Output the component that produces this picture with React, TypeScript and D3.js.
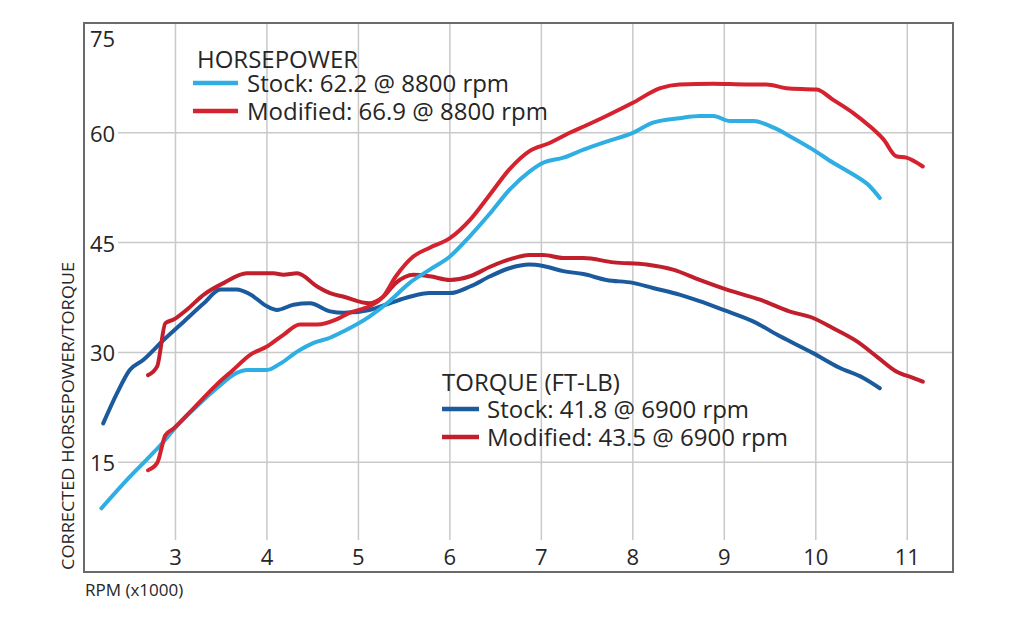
import React from "react";
import * as d3 from "d3";

// rpm in thousands
const stockHpRpm = [2.19, 2.5, 2.72, 2.87, 3.01, 3.23, 3.45, 3.67, 3.78, 4.0, 4.15, 4.33, 4.51, 4.69, 4.84, 5.12, 5.34, 5.56, 5.78, 6.0, 6.22, 6.44, 6.65, 6.87, 7.02, 7.24, 7.46, 7.71, 8.0, 8.22, 8.51, 8.73, 8.88, 9.06, 9.32, 9.54, 9.75, 9.97, 10.19, 10.41, 10.59, 10.7];
const stockHp = [8.7, 13.0, 15.8, 17.8, 19.9, 22.6, 25.1, 27.2, 27.6, 27.6, 28.5, 30.1, 31.3, 32.0, 32.9, 34.9, 37.0, 39.5, 41.3, 43.1, 45.9, 49.0, 52.2, 54.7, 55.9, 56.6, 57.7, 58.8, 60.0, 61.4, 62.0, 62.3, 62.3, 61.6, 61.6, 60.7, 59.3, 57.7, 55.9, 54.3, 52.7, 51.1];

const modHpRpm = [2.7, 2.8, 2.89, 2.98, 3.2, 3.45, 3.63, 3.82, 4.0, 4.18, 4.36, 4.55, 4.76, 4.9, 5.12, 5.27, 5.41, 5.6, 5.78, 6.0, 6.22, 6.44, 6.65, 6.87, 7.09, 7.31, 7.47, 7.71, 8.0, 8.3, 8.51, 8.88, 9.24, 9.46, 9.68, 10.01, 10.19, 10.41, 10.59, 10.74, 10.88, 10.99, 11.17];
const modHp = [13.9, 14.9, 18.7, 19.6, 22.4, 25.6, 27.6, 29.7, 30.8, 32.4, 33.8, 33.8, 34.5, 35.4, 36.3, 37.6, 40.4, 43.1, 44.3, 45.6, 48.1, 51.6, 55.0, 57.5, 58.6, 60.0, 60.9, 62.3, 64.1, 66.1, 66.6, 66.7, 66.6, 66.6, 66.1, 65.9, 64.5, 62.7, 60.9, 59.1, 56.8, 56.6, 55.4];

const stockTqRpm = [2.21, 2.36, 2.5, 2.65, 2.87, 3.09, 3.31, 3.49, 3.67, 3.82, 4.0, 4.11, 4.29, 4.47, 4.69, 4.84, 5.12, 5.34, 5.56, 5.78, 6.0, 6.22, 6.44, 6.65, 6.87, 7.02, 7.24, 7.46, 7.71, 8.0, 8.22, 8.51, 8.73, 8.99, 9.32, 9.61, 9.97, 10.26, 10.52, 10.7];
const stockTq = [20.3, 24.4, 27.6, 29.0, 31.7, 34.2, 36.7, 38.6, 38.6, 37.9, 36.3, 35.8, 36.5, 36.7, 35.6, 35.4, 35.8, 36.7, 37.6, 38.1, 38.1, 39.0, 40.4, 41.5, 42.0, 41.8, 41.1, 40.7, 39.9, 39.5, 38.8, 37.9, 37.0, 35.8, 34.2, 32.2, 29.9, 27.9, 26.5, 25.1];

const modTqRpm = [2.7, 2.8, 2.89, 2.98, 3.12, 3.31, 3.53, 3.78, 4.07, 4.18, 4.33, 4.55, 4.69, 4.84, 5.12, 5.27, 5.41, 5.6, 5.78, 6.0, 6.22, 6.44, 6.65, 6.87, 7.02, 7.24, 7.46, 7.79, 8.15, 8.44, 8.73, 9.02, 9.39, 9.71, 9.97, 10.19, 10.45, 10.67, 10.88, 11.07, 11.17];
const modTq = [26.9, 28.1, 34.0, 34.5, 35.8, 37.9, 39.5, 40.8, 40.8, 40.6, 40.8, 39.0, 38.1, 37.6, 36.7, 37.6, 39.5, 40.6, 40.4, 39.9, 40.4, 41.7, 42.7, 43.3, 43.3, 42.9, 42.9, 42.3, 42.0, 41.3, 39.9, 38.6, 37.2, 35.6, 34.7, 33.3, 31.5, 29.4, 27.4, 26.5, 26.0];

const xTicks = [3, 4, 5, 6, 7, 8, 9, 10, 11];
const yTicks = [15, 30, 45, 60, 75];

const hpLegend = ["Stock: 62.2 @ 8800 rpm", "Modified: 66.9 @ 8800 rpm"];
const tqLegend = ["Stock: 41.8 @ 6900 rpm", "Modified: 43.5 @ 6900 rpm"];

const LIGHT_BLUE = "#2eaee3";
const RED = "#d4232f";
const DARK_BLUE = "#1b5a9d";
const DARK_RED = "#c21f2c";

const FONT = "'Open Sans', 'Liberation Sans', sans-serif";

export default function App() {
  const width = 1024;
  const height = 632;
  const margin = { top: 23, right: 71, bottom: 60, left: 84 };

  const x = d3.scaleLinear().domain([2, 11.5]).range([margin.left, width - margin.right]);
  const y = d3.scaleLinear().domain([0, 75]).range([height - margin.bottom, margin.top]);

  const line = d3.line<[number, number]>()
    .x(d => x(d[0]))
    .y(d => y(d[1]))
    .curve(d3.curveMonotoneX);

  const zip = (r: number[], v: number[]) => r.map((d, i) => [d, v[i]] as [number, number]);

  const series = [
    { pts: zip(stockTqRpm, stockTq), color: DARK_BLUE },
    { pts: zip(modTqRpm, modTq), color: DARK_RED },
    { pts: zip(stockHpRpm, stockHp), color: LIGHT_BLUE },
    { pts: zip(modHpRpm, modHp), color: RED },
  ];

  const plotBottom = y(0);
  const gridBottom = plotBottom - 32;

  return (
    <svg width={width} height={height} style={{ position: "absolute", left: 0, top: 0, background: "#fff" }} fontFamily={FONT}>
      {/* vertical grid */}
      {xTicks.map(t => (
        <line key={"vx" + t} x1={x(t)} x2={x(t)} y1={y(75)} y2={gridBottom} stroke="#c9c9c9" strokeWidth={1.5} />
      ))}
      {/* horizontal grid */}
      {yTicks.filter(t => t < 75).map(t => (
        <line key={"hy" + t} x1={margin.left + 34} x2={x(11.5)} y1={y(t)} y2={y(t)} stroke="#c9c9c9" strokeWidth={1.5} />
      ))}

      {/* frame */}
      <rect x={x(2)} y={y(75)} width={x(11.5) - x(2)} height={y(0) - y(75)} fill="none" stroke="#6a6a6a" strokeWidth={2} />

      {/* y tick labels */}
      {yTicks.map(t => (
        <text key={"yl" + t} x={margin.left + 6} y={t === 75 ? y(t) + 16 : y(t) + 1} dy="0.36em" fontSize={22} fill="#262626">
          {t}
        </text>
      ))}
      {/* x tick labels */}
      {xTicks.map(t => (
        <text key={"xl" + t} x={x(t)} y={plotBottom - 15} dy="0.36em" textAnchor="middle" fontSize={22} fill="#262626">
          {t}
        </text>
      ))}

      {/* axis titles */}
      <text x={85} y={596} fontSize={17} fill="#262626">RPM (x1000)</text>
      <text transform={`translate(74, 416) rotate(-90)`} textAnchor="middle" fontSize={17} fill="#262626"
        textLength={308} lengthAdjust="spacingAndGlyphs">
        CORRECTED HORSEPOWER/TORQUE
      </text>

      {/* curves */}
      {series.map((s, i) => (
        <path key={i} d={line(s.pts) || ""} fill="none" stroke={s.color} strokeWidth={4} strokeLinejoin="round" strokeLinecap="round" />
      ))}

      {/* horsepower legend */}
      <text x={197} y={68} fontSize={24} fill="#262626">HORSEPOWER</text>
      <line x1={193} x2={238} y1={83} y2={83} stroke={LIGHT_BLUE} strokeWidth={4.5} />
      <text x={247} y={92} fontSize={24} fill="#262626">{hpLegend[0]}</text>
      <line x1={193} x2={238} y1={111} y2={111} stroke={RED} strokeWidth={4.5} />
      <text x={247} y={120} fontSize={24} fill="#262626">{hpLegend[1]}</text>

      {/* torque legend */}
      <text x={442} y={391} fontSize={24} fill="#262626">TORQUE (FT-LB)</text>
      <line x1={442} x2={479} y1={409} y2={409} stroke={DARK_BLUE} strokeWidth={4.5} />
      <text x={487} y={418} fontSize={24} fill="#262626">{tqLegend[0]}</text>
      <line x1={442} x2={479} y1={437} y2={437} stroke={DARK_RED} strokeWidth={4.5} />
      <text x={487} y={446} fontSize={24} fill="#262626">{tqLegend[1]}</text>
    </svg>
  );
}
